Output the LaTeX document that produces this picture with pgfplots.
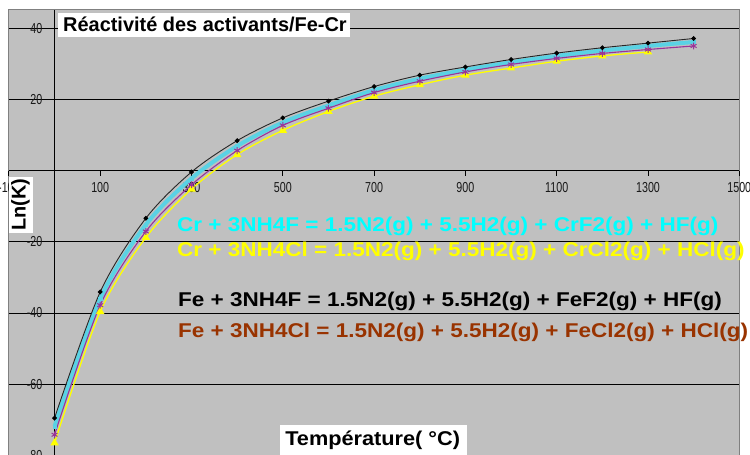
\documentclass[border=0pt]{standalone}
\usepackage{fontspec}
\setmainfont{Liberation Sans}
\newfontfamily\ticfont[FakeStretch=0.74]{Liberation Sans}
\newfontfamily\rxfont[FakeStretch=1.13]{Liberation Sans}
\newfontfamily\xlfont[FakeStretch=1.09]{Liberation Sans}
\usepackage{pgfplots}
\pgfplotsset{compat=1.18}
\definecolor{bg}{RGB}{192,192,192}
\definecolor{bordergray}{RGB}{128,128,128}
\definecolor{cyanline}{RGB}{90,210,228}
\definecolor{cyantext}{RGB}{0,255,255}
\definecolor{yel}{RGB}{255,255,0}
\definecolor{purp}{RGB}{153,51,153}
\definecolor{brown}{RGB}{153,51,0}
\begin{document}
\begin{tikzpicture}
\begin{axis}[
  scale only axis,
  width=730.4bp, height=445.4bp,
  xmin=-100, xmax=1500, ymin=-80, ymax=45.1,
  axis lines=middle,
  axis line style={-, black, line width=0.9bp},
  axis background/.style={fill=bg, draw=bordergray, line width=1bp},
  xtick={-100,100,...,1500},
  ytick={-80,-60,...,40},
  ymajorgrids,
  grid style={black, line width=0.9bp},
  tick align=outside,
  major tick length=5bp,
  tick style={black, line width=0.8bp},
  /pgf/number format/assume math mode=true,
  /pgf/number format/set thousands separator={},
  xticklabel style={font=\ticfont\fontsize{14.5}{16}\selectfont, inner sep=0pt, anchor=north, yshift=-7bp, text=black!90},
  yticklabel style={font=\ticfont\fontsize{14.5}{16}\selectfont, inner sep=0pt, anchor=east, xshift=-7bp, text=black!90},
  clip=false,
  enlargelimits=false,
]
% Cr + 3NH4Cl (yellow)
\addplot[yel, line width=1.3bp, smooth, mark=triangle*, mark size=3.6bp, mark options={fill=yel, draw=yel}]
coordinates {(0,-76.5) (100,-39.6) (200,-18.8) (300,-5.2) (400,4.5) (500,11.3) (600,16.6) (700,20.9) (800,24.1) (900,26.8) (1000,28.8) (1100,30.7) (1200,32.2) (1300,33.3)};
% Cr + 3NH4F (cyan)
\addplot[cyanline, line width=4bp, smooth, mark=square*, mark size=1.6bp, mark options={fill=cyanline, draw=cyanline, line width=0.5bp}]
coordinates {(0,-71.8) (100,-36.0) (200,-15.2) (300,-2.2) (400,6.9) (500,13.5) (600,18.3) (700,22.6) (800,25.8) (900,28.3) (1000,30.4) (1100,32.2) (1200,33.7) (1300,35.0) (1400,36.1)};
% Fe + 3NH4Cl (purple)
\addplot[purp, line width=1.1bp, smooth, mark=asterisk, mark size=3.4bp, mark options={line width=1bp}]
coordinates {(0,-74.2) (100,-37.8) (200,-17.1) (300,-4.0) (400,5.6) (500,12.7) (600,17.5) (700,21.9) (800,25.1) (900,27.7) (1000,29.8) (1100,31.5) (1200,32.9) (1300,34.0) (1400,35.0)};
% Fe + 3NH4F (black)
\addplot[black!85, line width=0.9bp, smooth, mark=*, mark size=1.9bp, mark options={fill=black, draw=black}]
coordinates {(0,-69.5) (100,-34.1) (200,-13.4) (300,-0.4) (400,8.4) (500,14.8) (600,19.5) (700,23.6) (800,26.8) (900,29.1) (1000,31.2) (1100,33.0) (1200,34.5) (1300,35.8) (1400,37.1)};

\coordinate (A) at (rel axis cs:0,0);
\coordinate (B) at (rel axis cs:1,1);

% title
\fill[white] (axis cs:7.7,37.6) rectangle (axis cs:647.3,44.3);
\node[anchor=base west, inner sep=0pt, font=\bfseries\fontsize{20}{24}\selectfont] at (axis cs:18.6,39.0) {Réactivité des activants/Fe-Cr};
% y label
\fill[white] (axis cs:-100,-1.8) rectangle (axis cs:-47.1,-17.5);
\node[rotate=90, inner sep=0pt, font=\bfseries\fontsize{20}{24}\selectfont] at (axis cs:-74.5,-9.6) {Ln(K)};
% x label
\fill[white] (axis cs:494,-71.4) rectangle (axis cs:903.6,-80);
\node[anchor=base west, inner sep=0pt, font=\xlfont\bfseries\fontsize{20}{24}\selectfont] at (axis cs:505,-77.1) {Température( °C)};
% reactions
\node[anchor=base west, inner sep=0pt, text=cyantext, font=\rxfont\bfseries\fontsize{20}{24}\selectfont] at (axis cs:268.3,-17.2) {Cr + 3NH4F = 1.5N2(g) + 5.5H2(g) + CrF2(g) + HF(g)};
\node[anchor=base west, inner sep=0pt, text=yel, font=\rxfont\bfseries\fontsize{20}{24}\selectfont] at (axis cs:268.3,-24.2) {Cr + 3NH4Cl = 1.5N2(g) + 5.5H2(g) + CrCl2(g) + HCl(g)};
\node[anchor=base west, inner sep=0pt, text=black, font=\rxfont\bfseries\fontsize{20}{24}\selectfont] at (axis cs:270.5,-38.3) {Fe + 3NH4F = 1.5N2(g) + 5.5H2(g) + FeF2(g) + HF(g)};
\node[anchor=base west, inner sep=0pt, text=brown, font=\rxfont\bfseries\fontsize{20}{24}\selectfont] at (axis cs:270.5,-47.0) {Fe + 3NH4Cl = 1.5N2(g) + 5.5H2(g) + FeCl2(g) + HCl(g)};
\end{axis}
\pgfresetboundingbox
\useasboundingbox ([shift={(-8.9bp,1.4bp)}]A) rectangle ([shift={(10.7bp,10bp)}]B);
\end{tikzpicture}
\end{document}
